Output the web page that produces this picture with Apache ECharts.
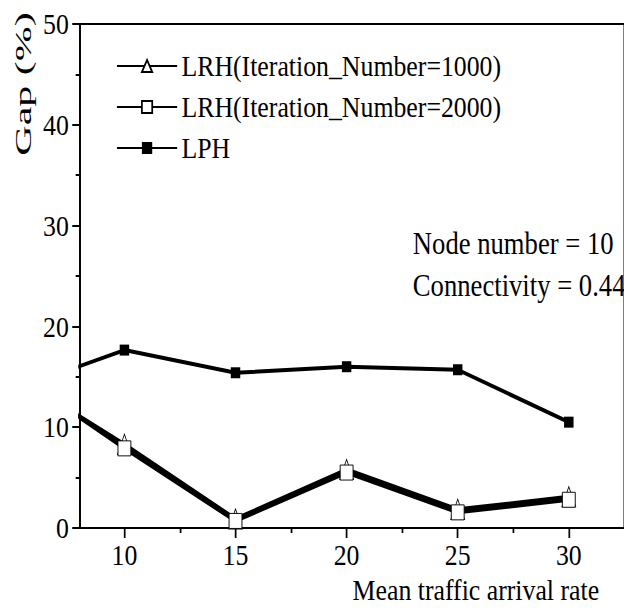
<!DOCTYPE html>
<html>
<head>
<meta charset="utf-8">
<title>Gap vs mean traffic arrival rate</title>
<script src="https://cdn.jsdelivr.net/npm/echarts@6/dist/echarts.min.js"></script>
<style>
  body { margin: 0; overflow: hidden; background: #fff; }
  /* the original figure is squeezed horizontally, so the whole chart is drawn wider and scaled */
  #main { width: 726px; height: 612px; transform: scaleX(0.86); transform-origin: 0 0; }
</style>
</head>
<body>
<div id="main"></div>
<script>
// x = mean traffic arrival rate (the 5 point lies left of the visible axis, it is clipped)
const arrivalRate = [5, 10, 15, 20, 25, 30]
const lrh1000 = [15.2, 8.3, 0.9, 5.8, 1.85, 3.1]
const lrh2000 = [15.5, 7.9, 0.7, 5.5, 1.55, 2.8]
const lph = [13.7, 17.65, 15.4, 16.0, 15.7, 10.5]

const xMajorTicks = [10, 15, 20, 25, 30]
const xMinorTicks = [12.5, 17.5, 22.5, 27.5]

const seriesNames = ['LRH(Iteration_Number=1000)', 'LRH(Iteration_Number=2000)', 'LPH']
const noteLines = ['Node number = 10', 'Connectivity = 0.44']
const xTitle = 'Mean traffic arrival rate'
const yTitle = 'Gap (%)'

const font = "'Liberation Serif', 'Times New Roman', serif"

function pairs(ys) {
  return arrivalRate.map((x, i) => [x, ys[i]])
}

const chart = echarts.init(document.getElementById('main'), null, { renderer: 'svg' })

const option = {
  animation: false,
  backgroundColor: '#fff',
  textStyle: { fontFamily: font, color: '#000' },
  grid: {
    left: 93,
    top: 24,
    width: 635,
    height: 504,
    show: true,
    borderColor: '#000',
    borderWidth: 2,
    backgroundColor: 'transparent'
  },
  legend: {
    orient: 'vertical',
    left: 130,
    top: 46,
    itemWidth: 70,
    itemHeight: 15,
    itemGap: 11,
    data: seriesNames,
    textStyle: { fontFamily: font, fontSize: 30, color: '#000', lineHeight: 30 }
  },
  xAxis: [
    {
      type: 'value',
      min: 8,
      max: 32.5,
      position: 'bottom',
      splitLine: { show: false },
      axisLine: { lineStyle: { color: '#000', width: 2 } },
      axisTick: { customValues: xMajorTicks, length: 10, lineStyle: { color: '#000', width: 2 } },
      axisLabel: { customValues: xMajorTicks, fontSize: 30, margin: 12, color: '#000', fontFamily: font }
    },
    {
      // minor ticks only
      type: 'value',
      min: 8,
      max: 32.5,
      position: 'bottom',
      splitLine: { show: false },
      axisLine: { show: false },
      axisTick: { customValues: xMinorTicks, length: 5, lineStyle: { color: '#000', width: 2 } },
      axisLabel: { show: false }
    }
  ],
  yAxis: {
    type: 'value',
    min: 0,
    max: 50,
    interval: 10,
    splitLine: { show: false },
    axisLine: { show: true, lineStyle: { color: '#000', width: 2 } },
    axisTick: { show: true, length: 9, lineStyle: { color: '#000', width: 2 } },
    minorTick: { show: true, splitNumber: 2, length: 5, lineStyle: { color: '#000', width: 2 } },
    axisLabel: { fontSize: 30, margin: 13, color: '#000', fontFamily: font }
  },
  series: [
    {
      name: seriesNames[0],
      type: 'line',
      data: pairs(lrh1000),
      symbol: 'triangle',
      symbolSize: [16, 20],
      lineStyle: { color: '#000', width: 4 },
      itemStyle: { color: '#fff', borderColor: '#000', borderWidth: 1 }
    },
    {
      name: seriesNames[1],
      type: 'line',
      data: pairs(lrh2000),
      symbol: 'rect',
      symbolSize: 15,
      lineStyle: { color: '#000', width: 4 },
      itemStyle: { color: '#fff', borderColor: '#000', borderWidth: 1 }
    },
    {
      name: seriesNames[2],
      type: 'line',
      data: pairs(lph),
      symbol: 'rect',
      symbolSize: 11,
      lineStyle: { color: '#000', width: 4 },
      itemStyle: { color: '#000', borderColor: '#000', borderWidth: 0 }
    }
  ],
  graphic: [
    {
      type: 'text',
      x: 480,
      y: 243,
      style: { text: noteLines[0], font: '31px ' + font, fill: '#000', verticalAlign: 'middle' }
    },
    {
      type: 'text',
      x: 480,
      y: 285,
      style: { text: noteLines[1], font: '31px ' + font, fill: '#000', verticalAlign: 'middle' }
    },
    {
      type: 'text',
      x: 410,
      y: 590,
      style: { text: xTitle, font: '30px ' + font, fill: '#000', verticalAlign: 'middle' }
    },
    {
      // rotated y title, stretched along its length like the original
      type: 'text',
      x: 26,
      y: 84,
      rotation: Math.PI / 2,
      scaleX: 1.5,
      style: { text: yTitle, font: '28px ' + font, fill: '#000', align: 'center', verticalAlign: 'middle' }
    }
  ]
}

chart.setOption(option)
</script>
</body>
</html>
